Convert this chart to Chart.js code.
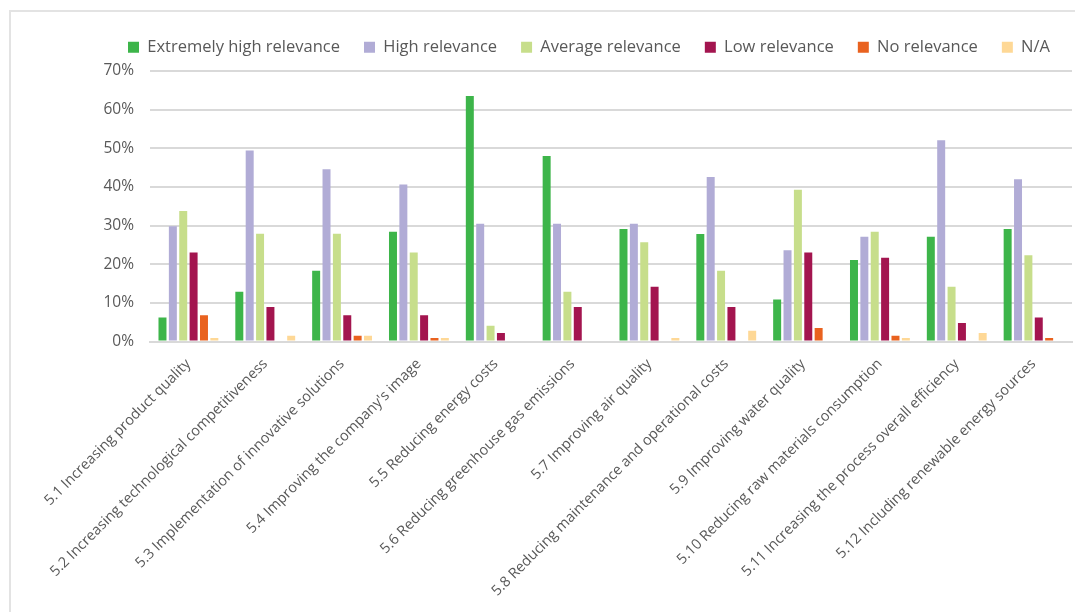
<!DOCTYPE html>
<html>
<head>
<meta charset="utf-8">
<script src="https://cdn.jsdelivr.net/npm/chart.js@4/dist/chart.umd.min.js"></script>
<style>
  html, body { margin: 0; padding: 0; background: #ffffff; }
  body { width: 1075px; height: 612px; overflow: hidden; position: relative; }
  #frame {
    position: absolute; left: 9px; top: 10px;
    width: 1064px; height: 600px;
    border-top: 2px solid #e3e3e3; border-left: 2px solid #e3e3e3;
  }
  #frame canvas { display: block; }
</style>
</head>
<body>
<div id="frame"><canvas id="chart" width="1064" height="600"></canvas></div>
<script>
// Survey: relevance of each expected benefit (share of respondents)
const categories = [
  "5.1 Increasing product quality",
  "5.2 Increasing technological competitiveness",
  "5.3 Implementation of innovative solutions",
  "5.4 Improving the company's image",
  "5.5 Reducing energy costs",
  "5.6 Reducing greenhouse gas emissions",
  "5.7 Improving air quality",
  "5.8 Reducing maintenance and operational costs",
  "5.9 Improving water quality",
  "5.10 Reducing raw materials consumption",
  "5.11 Increasing the process overall efficiency",
  "5.12 Including renewable energy sources"
];

const extremelyHigh = [6.2, 12.9, 18.3, 28.4, 63.5, 48.0, 29.1, 27.8, 10.9, 21.1, 27.1, 29.1];
const high          = [29.8, 49.4, 44.6, 40.6, 30.5, 30.5, 30.5, 42.6, 23.6, 27.1, 52.1, 42.0];
const average       = [33.8, 27.9, 27.9, 23.0, 4.1, 12.9, 25.7, 18.3, 39.3, 28.4, 14.2, 22.3];
const low           = [23.0, 8.9, 6.8, 6.8, 2.2, 8.9, 14.2, 8.9, 23.0, 21.7, 4.8, 6.2];
const none          = [6.8, 0, 1.5, 0.9, 0, 0, 0, 0, 3.5, 1.5, 0, 0.9];
const notApplicable = [0.9, 1.5, 1.5, 0.9, 0, 0, 0.9, 2.8, 0, 0.9, 2.2, 0];

const yTicks = [0, 10, 20, 30, 40, 50, 60, 70];

const seriesNames  = ["Extremely high relevance", "High relevance", "Average relevance", "Low relevance", "No relevance", "N/A"];
const seriesValues = [extremelyHigh, high, average, low, none, notApplicable];
const seriesColors = ["#3db54a", "#b1acd6", "#c7de8b", "#a3154f", "#e9621f", "#fed896"];

const textColor = "#595959";
const fontFamily = "'Open Sans', 'Liberation Sans', sans-serif";

// Trim the legend box so the plot starts right under it,
// and nudge the legend row to the right of the canvas centre
const legendPlacement = {
  id: "legendPlacement",
  afterInit(chart) {
    const legend = chart.legend;
    const fit = legend.fit;
    legend.fit = function () {
      fit.call(this);
      this.height = 56;
    };
  },
  afterLayout(chart) {
    chart.legend.left += 46;
    chart.legend.right += 46;
  }
};

new Chart(document.getElementById("chart"), {
  type: "bar",
  data: {
    labels: categories,
    datasets: seriesNames.map((name, i) => ({
      label: name,
      data: seriesValues[i],
      backgroundColor: seriesColors[i],
      borderWidth: 0,
      categoryPercentage: 0.81,
      barPercentage: 0.77
    }))
  },
  options: {
    responsive: false,
    animation: false,
    layout: { padding: { left: 3, right: 3, top: 3, bottom: 0 } },
    plugins: {
      tooltip: { enabled: false },
      legend: {
        position: "top",
        align: "center",
        labels: {
          boxWidth: 11,
          boxHeight: 11,
          padding: 24,
          color: textColor,
          font: { family: fontFamily, size: 16.5 }
        }
      }
    },
    scales: {
      x: {
        grid: { display: false, drawTicks: false },
        border: { display: true, color: "#d9d9d9", width: 2 },
        ticks: {
          color: textColor,
          font: { family: fontFamily, size: 14.5 },
          maxRotation: 45,
          minRotation: 45,
          autoSkip: false,
          padding: 14
        },
        afterFit(scale) { scale.height = 270.5; }
      },
      y: {
        min: 0,
        max: 70,
        afterBuildTicks(scale) { scale.ticks = yTicks.map(v => ({ value: v })); },
        grid: { color: "#d9d9d9", lineWidth: 2, drawTicks: false },
        border: { display: false },
        ticks: {
          color: textColor,
          font: { family: fontFamily, size: 15.5 },
          padding: 16,
          callback: v => v + "%"
        },
        afterFit(scale) { scale.width = 136; }
      }
    }
  },
  plugins: [legendPlacement]
});
</script>
</body>
</html>
